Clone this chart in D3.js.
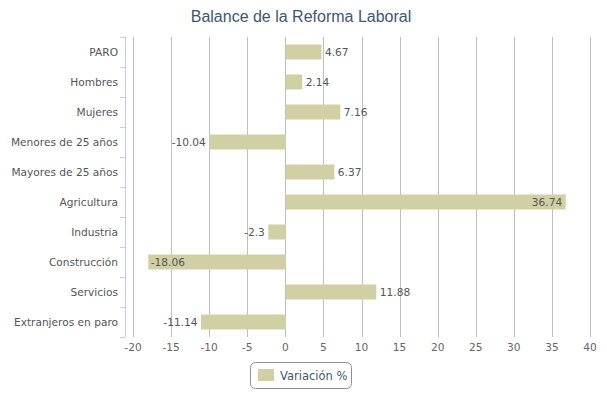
<html>
<meta charset="utf-8">
<body style="margin:0;background:#fff">
<script src="https://d3js.org/d3.v7.min.js"></script>
<div id="chart"></div>
<script>
// categories and values
var categories = ["PARO", "Hombres", "Mujeres", "Menores de 25 años", "Mayores de 25 años",
                  "Agricultura", "Industria", "Construcción", "Servicios", "Extranjeros en paro"]
var values = [4.67, 2.14, 7.16, -10.04, 6.37, 36.74, -2.3, -18.06, 11.88, -11.14]
var xTicks = [-20, -15, -10, -5, 0, 5, 10, 15, 20, 25, 30, 35, 40]
var seriesName = "Variación %"
var title = "Balance de la Reforma Laboral"

var W = 607, H = 397
var barColor = "#d1cfa4"

var svg = d3.select("#chart").append("svg")
    .attr("width", W).attr("height", H)
    .style("font-family", "DejaVu Sans")

var x = d3.scaleLinear().domain([-20, 40]).range([133, 590])
var y = d3.scaleBand().domain(categories).range([37, 337]).paddingInner(0.5).paddingOuter(0.25)

// title
svg.append("text")
    .attr("x", 301).attr("y", 22)
    .attr("text-anchor", "middle")
    .style("font-family", "Liberation Sans")
    .style("font-size", "16px")
    .style("fill", "#3e576f")
    .text(title)

// vertical grid lines
svg.append("g").selectAll("line")
    .data(xTicks)
  .enter().append("line")
    .attr("x1", function(d) { return Math.round(x(d)) + 0.5 })
    .attr("x2", function(d) { return Math.round(x(d)) + 0.5 })
    .attr("y1", 37).attr("y2", 337)
    .style("stroke", "#c0c0c0")
    .style("stroke-width", 1)

// x tick labels
svg.append("g").selectAll("text")
    .data(xTicks)
  .enter().append("text")
    .attr("x", function(d) { return x(d) })
    .attr("y", 351)
    .attr("text-anchor", "middle")
    .style("font-size", "10.6px")
    .style("fill", "#666")
    .text(function(d) { return d })

// y axis line and ticks
var ax = svg.append("g")
ax.append("line")
    .attr("x1", 125.5).attr("x2", 125.5).attr("y1", 37).attr("y2", 337)
    .style("stroke", "#c0d0e0")
ax.selectAll(".tk")
    .data(d3.range(categories.length + 1))
  .enter().append("line")
    .attr("x1", 120).attr("x2", 125)
    .attr("y1", function(i) { return 37.5 + i * y.step() })
    .attr("y2", function(i) { return 37.5 + i * y.step() })
    .style("stroke", "#c0d0e0")

// category labels
svg.append("g").selectAll("text")
    .data(categories)
  .enter().append("text")
    .attr("x", 118)
    .attr("y", function(d) { return y(d) + y.bandwidth() / 2 + 4 })
    .attr("text-anchor", "end")
    .style("font-size", "10.6px")
    .style("fill", "#555")
    .text(function(d) { return d })

// bars
svg.append("g").selectAll("rect")
    .data(values)
  .enter().append("rect")
    .attr("x", function(d) { return Math.min(x(0), x(d)) + 0.5 })
    .attr("y", function(d, i) { return y(categories[i]) })
    .attr("width", function(d) { return Math.abs(x(d) - x(0)) })
    .attr("height", y.bandwidth())
    .style("fill", barColor)

// data labels: outside the bar, inside when there is no room
svg.append("g").selectAll("text")
    .data(values)
  .enter().append("text")
    .attr("y", function(d, i) { return y(categories[i]) + y.bandwidth() / 2 + 4 })
    .attr("x", function(d) {
      if (d > 0) return x(d) + 40 > 590 ? x(d) - 3 : x(d) + 4
      return x(d) - 40 < 133 ? x(d) + 3 : x(d) - 3
    })
    .attr("text-anchor", function(d) {
      if (d > 0) return x(d) + 40 > 590 ? "end" : "start"
      return x(d) - 40 < 133 ? "start" : "end"
    })
    .style("font-size", "10.6px")
    .style("fill", "#555")
    .text(function(d) { return d })

// legend
var lg = svg.append("g")
lg.append("rect")
    .attr("x", 250.5).attr("y", 362.5).attr("width", 101).attr("height", 26)
    .attr("rx", 5)
    .style("fill", "#fff").style("stroke", "#909090")
lg.append("rect")
    .attr("x", 258).attr("y", 369).attr("width", 16).attr("height", 12)
    .style("fill", barColor)
lg.append("text")
    .attr("x", 280).attr("y", 380)
    .style("font-size", "11.5px")
    .style("fill", "#3e576f")
    .text(seriesName)
</script>
</body>
</html>
